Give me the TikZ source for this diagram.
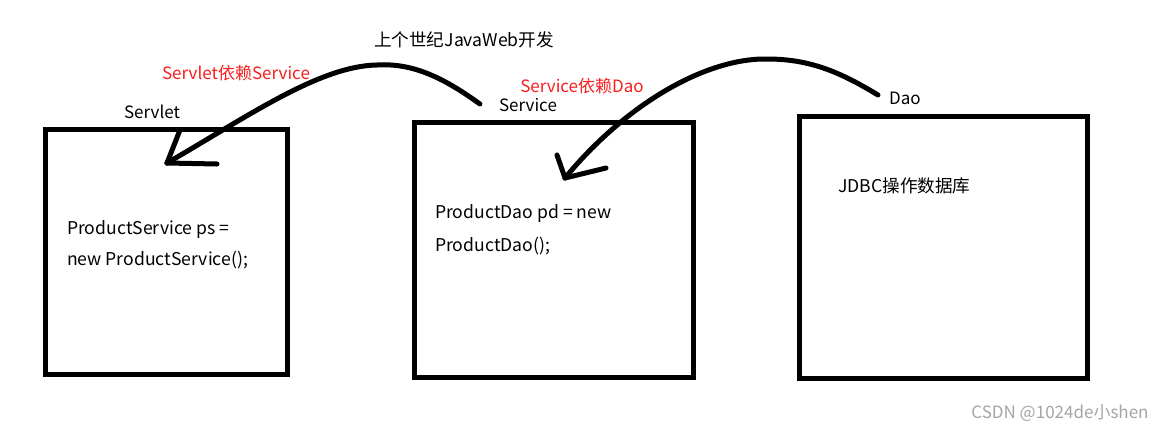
\documentclass[tikz,border=0pt]{standalone}
\usepackage{fontspec}
\setmainfont{Noto Sans CJK SC}
\definecolor{labelred}{RGB}{250,30,30}
\definecolor{markgray}{RGB}{165,165,165}
\begin{document}
\begin{tikzpicture}[x=1pt,y=-1pt,
  layer/.style={draw=black,line width=5pt,minimum width=#1,inner sep=0pt},
  txt/.style={font=\fontsize{17}{20}\selectfont,inner sep=0pt},
  codetxt/.style={font=\fontsize{17.6}{20}\selectfont,inner sep=0pt,anchor=base west},
  redtxt/.style={txt,text=labelred},
  dep/.style={line width=5pt,line cap=round,line join=round}]
\useasboundingbox[fill=white] (0,0) rectangle (1171,432);

% the three layers
\node[layer=242pt,minimum height=245pt] (servlet) at (166,251.5) {};
\node[layer=279.5pt,minimum height=255pt] (service) at (554,250) {};
\node[layer=288pt,minimum height=262pt] (dao) at (943.5,247.5) {};

% layer names
\node[txt] (servletname) at (152,112) {Servlet};
\node[txt] (servicename) at (528,105) {Service};
\node[txt] (daoname) at (905,98) {Dao};

% title and dependency labels
\node[txt,font=\fontsize{17.6}{20}\selectfont] (title) at (464,40) {上个世纪JavaWeb开发};
\node[redtxt] (dep1) at (236,73) {Servlet依赖Service};
\node[redtxt] (dep2) at (582,86) {Service依赖Dao};

% code inside the layers
\node[codetxt] (code1a) at (67,234) {ProductService ps =};
\node[codetxt] (code1b) at (67,265) {new ProductService();};
\node[codetxt] (code2a) at (435,218) {ProductDao pd = new};
\node[codetxt] (code2b) at (435,251) {ProductDao();};
\node[codetxt] (code3) at (838,192) {JDBC操作数据库};

% dependency arrows
\coordinate (tip1) at (167,163);
\coordinate (tip2) at (565,178);
\draw[dep] (servicename.west) ++(-19,-1)
  .. controls (440,75) and (410,63) .. (377,65)
  .. controls (320,66) and (250,115) .. (tip1);
\draw[dep] (tip1) -- ++(13,-33);
\draw[dep] (tip1) -- ++(50,1);
\draw[dep] (daoname.west) ++(-11,-3)
  .. controls (840,72) and (810,59) .. (767,59)
  .. controls (705,58) and (625,105) .. (tip2);
\draw[dep] (tip2) -- ++(-8,-23);
\draw[dep] (tip2) -- ++(41,-10);

% watermark
\node[font=\fontsize{17}{20}\selectfont,text=markgray,inner sep=0pt] (mark) at (1060,413) {CSDN @1024de小shen};
\end{tikzpicture}
\end{document}
